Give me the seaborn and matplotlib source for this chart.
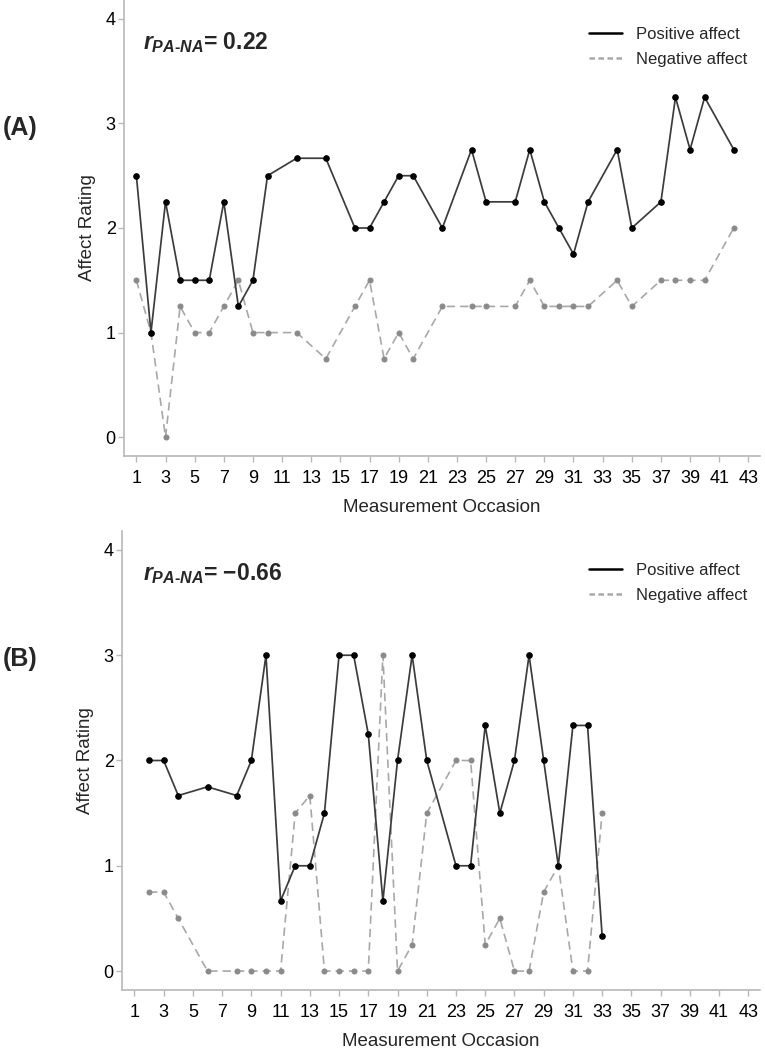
import matplotlib
matplotlib.use("Agg")
import matplotlib.pyplot as plt
from matplotlib.lines import Line2D
import numpy as np
import pandas as pd
import seaborn as sns

# ---- data ----
occ_a = [1, 2, 3, 4, 5, 6, 7, 8, 9, 10, 12, 14, 16, 17, 18, 19, 20, 22, 24, 25,
         27, 28, 29, 30, 31, 32, 34, 35, 37, 38, 39, 40, 42]
pa_a = [2.5, 1, 2.25, 1.5, 1.5, 1.5, 2.25, 1.25, 1.5, 2.5, 2.667, 2.667, 2, 2,
        2.25, 2.5, 2.5, 2, 2.75, 2.25, 2.25, 2.75, 2.25, 2, 1.75, 2.25, 2.75, 2,
        2.25, 3.25, 2.75, 3.25, 2.75]
na_a = [1.5, 1, 0, 1.25, 1, 1, 1.25, 1.5, 1, 1, 1, 0.75, 1.25, 1.5, 0.75, 1,
        0.75, 1.25, 1.25, 1.25, 1.25, 1.5, 1.25, 1.25, 1.25, 1.25, 1.5, 1.25,
        1.5, 1.5, 1.5, 1.5, 2]

occ_b = [2, 3, 4, 6, 8, 9, 10, 11, 12, 13, 14, 15, 16, 17, 18, 19, 20, 21, 23,
         24, 25, 26, 27, 28, 29, 30, 31, 32, 33]
pa_b = [2, 2, 1.667, 1.75, 1.667, 2, 3, 0.667, 1, 1, 1.5, 3, 3, 2.25, 0.667, 2,
        3, 2, 1, 1, 2.333, 1.5, 2, 3, 2, 1, 2.333, 2.333, 0.333]
na_b = [0.75, 0.75, 0.5, 0, 0, 0, 0, 0, 1.5, 1.667, 0, 0, 0, 0, 3, 0, 0.25, 1.5,
        2, 2, 0.25, 0.5, 0, 0, 0.75, 1, 0, 0, 1.5]

panel_labels = ["(A)", "(B)"]
r_values = ["0.22", "\u22120.66"]
series_names = ["Positive affect", "Negative affect"]

# ---- style ----
sns.set_style("ticks")
plt.rcParams["font.family"] = ["Liberation Sans", "DejaVu Sans"]
plt.rcParams["mathtext.fontset"] = "custom"
plt.rcParams["mathtext.it"] = "Liberation Sans:italic:bold"
plt.rcParams["mathtext.rm"] = "Liberation Sans:bold"
plt.rcParams["mathtext.bf"] = "Liberation Sans:bold"

W, H = 765, 1050
fig = plt.figure(figsize=(W / 100, H / 100), dpi=100)

# axes boxes in pixels: left, top, right, bottom
boxes = [(124, 0, 760, 456), (122, 531, 760, 990)]
legend_top = [12, 548]

pa_line = "#3c3c3c"
na_line = "#a8a8a8"
na_mark = "#8a8a8a"
grey = "#b8b8b8"

panels = [(occ_a, pa_a, na_a), (occ_b, pa_b, na_b)]

for i, ((occ, pa, na), (l, t, r, b)) in enumerate(zip(panels, boxes)):
    ax = fig.add_axes([l / W, 1 - b / H, (r - l) / W, (b - t) / H])
    df = pd.DataFrame({"occasion": occ, "Positive affect": pa, "Negative affect": na})

    sns.lineplot(data=df, x="occasion", y="Negative affect", ax=ax,
                 estimator=None, sort=False, legend=False,
                 color=na_line, lw=1.2, linestyle=(0, (5, 3)),
                 marker="o", markersize=3.6, markerfacecolor=na_mark,
                 markeredgecolor=na_mark)
    sns.lineplot(data=df, x="occasion", y="Positive affect", ax=ax,
                 estimator=None, sort=False, legend=False,
                 color=pa_line, lw=1.25,
                 marker="o", markersize=4.0, markerfacecolor="black",
                 markeredgecolor="black")

    ax.set_xlim(0.15, 43.8)
    ax.set_ylim(-0.18, 4.18)
    ax.set_xticks(np.arange(1, 44, 2))
    ax.set_yticks([0, 1, 2, 3, 4])
    ax.tick_params(axis="both", labelsize=13, colors=grey, labelcolor="black",
                   length=4, width=1)
    ax.tick_params(axis="x", pad=6)
    ax.tick_params(axis="y", pad=2)
    for s in ["top", "right"]:
        ax.spines[s].set_visible(False)
    for s in ["left", "bottom"]:
        ax.spines[s].set_color(grey)
        ax.spines[s].set_linewidth(1.2)

    ax.set_xlabel("Measurement Occasion", fontsize=13.5, labelpad=9)
    ax.set_ylabel("Affect Rating", fontsize=13.5, labelpad=7)

    handles = [Line2D([], [], color="black", lw=1.8),
               Line2D([], [], color=na_line, lw=1.8, linestyle=(0, (2.2, 1.4)))]
    fig.legend(handles, series_names, loc="upper right", frameon=False,
               fontsize=12, handlelength=2.0, handletextpad=0.8,
               labelspacing=0.6,
               bbox_to_anchor=(762 / W, 1 - legend_top[i] / H))

    fig.text(143 / W, 1 - (43 + t) / H,
             r"$r_{PA\text{-}NA}$= " + r_values[i],
             fontsize=16.5, fontweight="bold", va="center", ha="left")
    fig.text(3 / W, 1 - (128 + t) / H,
             panel_labels[i], fontsize=18, fontweight="bold",
             va="center", ha="left")

fig.savefig("out.png", dpi=100)
